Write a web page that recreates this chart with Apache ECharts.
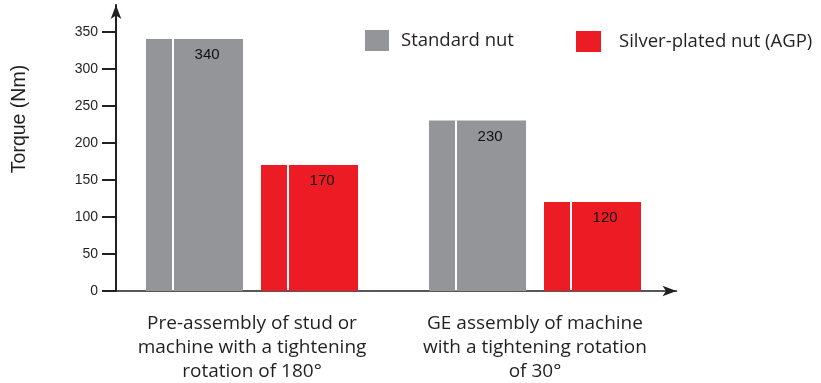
<!DOCTYPE html>
<html>
<head>
<meta charset="utf-8">
<script src="https://cdn.jsdelivr.net/npm/echarts@6/dist/echarts.min.js"></script>
<style>
  html, body { margin: 0; padding: 0; background: #fff; }
  #chart { width: 821px; height: 383px; }
</style>
</head>
<body>
<div id="chart"></div>
<script>
// Torque needed per assembly step, standard vs silver-plated nut
const categories = [
  'Pre-assembly of stud or\nmachine with a tightening\nrotation of 180°',
  'GE assembly of machine\nwith a tightening rotation\nof 30°'
];
const seriesNames = ['Standard nut', 'Silver-plated nut (AGP)'];
const standardNut = [340, 230];
const silverPlatedNut = [170, 120];
const yTickValues = [0, 50, 100, 150, 200, 250, 300, 350];

const GRAY = '#939598';
const RED = '#ED1C24';
const INK = '#231F20';
const BAR_W = 97;
const BAR_GAP = 18;
const DIVIDER_AT = 26;
const TEXT_FONT = '"Open Sans", "Noto Sans", sans-serif';
const NUM_FONT = '"Liberation Sans", Arial, sans-serif';

// divider strip items: [category index, value, series index]
const dividerData = [];
[standardNut, silverPlatedNut].forEach((arr, s) => {
  arr.forEach((v, i) => dividerData.push([i, v, s]));
});

const chart = echarts.init(document.getElementById('chart'), null, { renderer: 'canvas' });

const barLabel = {
  show: true,
  position: ['63%', 16],
  align: 'center',
  verticalAlign: 'middle',
  color: '#111',
  fontFamily: NUM_FONT,
  fontSize: 15
};

chart.setOption({
  animation: false,
  backgroundColor: '#fff',
  grid: { left: 110.5, right: 144.5, top: 5, bottom: 92, containLabel: false, outerBoundsMode: 'none' },
  legend: [
    {
      data: [seriesNames[0]], left: 360, top: 25, itemWidth: 24, itemHeight: 21,
      icon: 'rect',
      textStyle: { fontFamily: TEXT_FONT, fontSize: 18.5, color: INK, padding: [0, 0, 0, 7] }
    },
    {
      data: [seriesNames[1]], left: 571, top: 26, itemWidth: 25, itemHeight: 21,
      icon: 'rect',
      textStyle: { fontFamily: TEXT_FONT, fontSize: 18.5, color: INK, padding: [0, 0, 0, 13] }
    }
  ],
  graphic: [{
    type: 'text',
    x: 20, y: 119,
    rotation: Math.PI / 2,
    style: {
      text: 'Torque (Nm)',
      fontFamily: NUM_FONT, fontSize: 19.5, fill: INK,
      align: 'center', verticalAlign: 'middle'
    }
  }],
  xAxis: {
    type: 'category',
    data: categories,
    axisLine: {
      show: true,
      symbol: ['none', 'arrow'],
      symbolSize: [8, 14],
      lineStyle: { color: INK, width: 1.6 }
    },
    axisTick: { show: false },
    axisLabel: {
      interval: 0,
      margin: 21,
      fontFamily: TEXT_FONT,
      fontSize: 19,
      lineHeight: 24,
      color: INK
    }
  },
  yAxis: {
    type: 'value',
    min: 0,
    max: 386,
    offset: -5.5,
    splitLine: { show: false },
    axisLine: {
      show: true,
      symbol: ['none', 'arrow'],
      symbolSize: [8, 14],
      lineStyle: { color: INK, width: 2 }
    },
    axisTick: {
      show: true, length: 14, customValues: yTickValues,
      lineStyle: { color: INK, width: 2 }
    },
    axisLabel: {
      customValues: yTickValues,
      margin: 18,
      fontFamily: NUM_FONT,
      fontSize: 14,
      color: INK
    }
  },
  series: [
    {
      name: seriesNames[0], type: 'bar', data: standardNut,
      barWidth: BAR_W, barGap: (BAR_GAP / BAR_W * 100) + '%',
      itemStyle: { color: GRAY }, label: barLabel, z: 2
    },
    {
      name: seriesNames[1], type: 'bar', data: silverPlatedNut,
      barWidth: BAR_W, barGap: (BAR_GAP / BAR_W * 100) + '%',
      itemStyle: { color: RED }, label: barLabel, z: 2
    },
    {
      // thin white strip running down each bar
      type: 'custom',
      name: 'divider',
      z: 3,
      silent: true,
      data: dividerData,
      renderItem: function (params, api) {
        const top = api.coord([api.value(0), api.value(1)]);
        const base = api.coord([api.value(0), 0]);
        const s = api.value(2);
        const left = top[0] - (2 * BAR_W + BAR_GAP) / 2 + s * (BAR_W + BAR_GAP);
        return {
          type: 'rect',
          shape: { x: left + DIVIDER_AT, y: top[1], width: 2, height: base[1] - top[1] - 1 },
          style: { fill: '#fff' }
        };
      }
    }
  ]
});
</script>
</body>
</html>
